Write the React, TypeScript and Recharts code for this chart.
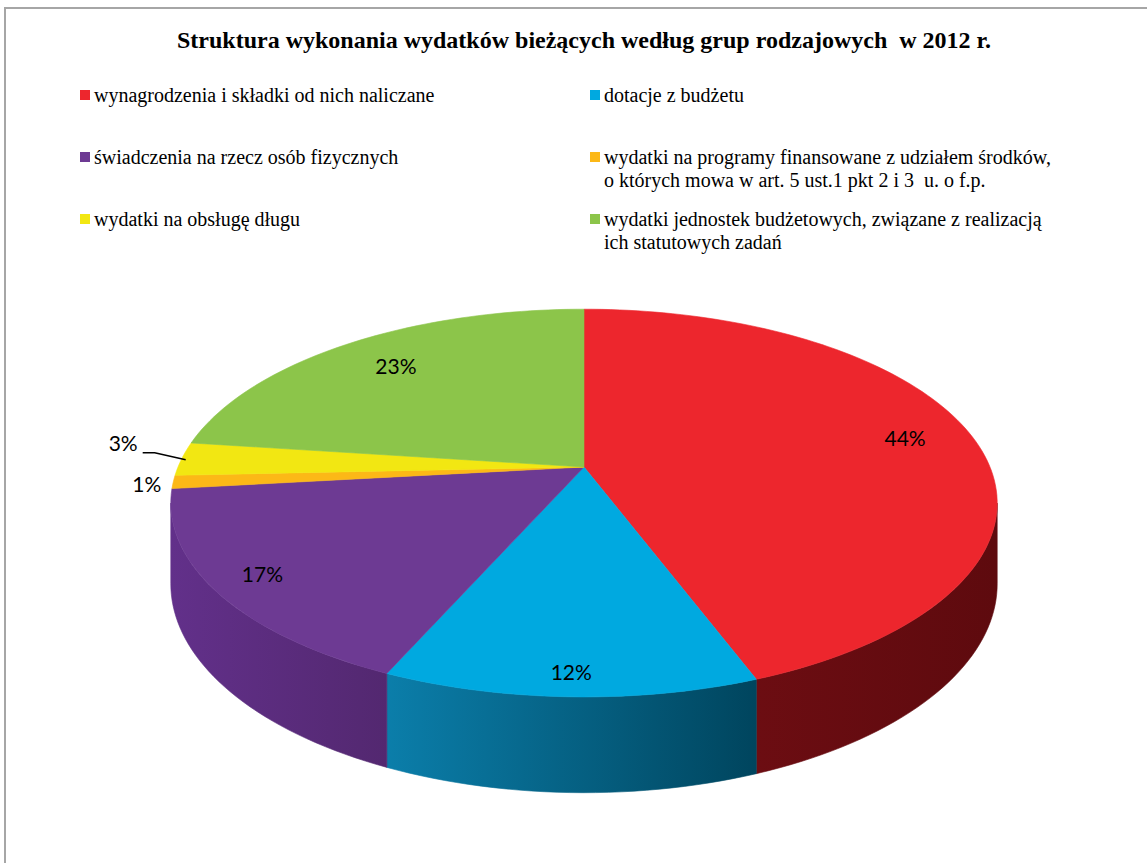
import { PieChart, Pie, Cell, Legend } from 'recharts'

const serif = '"Liberation Serif", "Times New Roman", serif'
const sans = 'Lato, "Open Sans", sans-serif'

const title = 'Struktura wykonania wydatków bieżących według grup rodzajowych  w 2012 r.'

const categories = [
  'wynagrodzenia i składki od nich naliczane',
  'dotacje z budżetu',
  'świadczenia na rzecz osób fizycznych',
  'wydatki na programy finansowane z udziałem środków,\no których mowa w art. 5 ust.1 pkt 2 i 3  u. o f.p.',
  'wydatki na obsługę długu',
  'wydatki jednostek budżetowych, związane z realizacją\nich statutowych zadań',
]
// share of total, %
const shares = [44.3, 12.3, 16.6, 1.1, 2.8, 22.9]

const topColors = ['#ED262D', '#00A9E0', '#6D3A93', '#FCB817', '#F2E712', '#8CC54A']
const sideLight = ['#6C0D12', '#0B7EAA', '#62308A', '#B07F0C', '#A9A10A', '#5F8A30']
const sideDark = ['#5E0A0E', '#00455E', '#532870', '#9A6F0A', '#958E08', '#54792A']

const data = categories.map((name, i) => ({ name, value: shares[i] }))

// fake 3D: perspective projection of the flat pie
const TILT = 0.461
const PERSP = 0.186
const DEPTH = 0.192
// where the side wall silhouette starts / ends
const SIDE_FROM = (Math.acos(-PERSP) * 180) / Math.PI
const SIDE_TO = 360 - SIDE_FROM

function project(cx: number, cy: number, R: number, theta: number, r = 1, drop = 0) {
  const t = (theta * Math.PI) / 180
  const x = r * Math.sin(t)
  const z = r * Math.cos(t)
  const w = 1 + PERSP * z
  return [cx + (R * x) / w, cy + (-R * TILT * z + R * DEPTH * drop) / w]
}

function arcPoints(cx: number, cy: number, R: number, t1: number, t2: number, drop = 0) {
  const n = Math.max(2, Math.ceil((t2 - t1) / 1.5))
  const pts: number[][] = []
  for (let i = 0; i <= n; i++) pts.push(project(cx, cy, R, t1 + ((t2 - t1) * i) / n, 1, drop))
  return pts
}

function TopSlice(props: any) {
  const { cx, cy, outerRadius, startAngle, endAngle, fill } = props
  const t1 = 90 - startAngle
  const t2 = 90 - endAngle
  const pts = arcPoints(cx, cy, outerRadius, Math.min(t1, t2), Math.max(t1, t2))
  const d = `M${cx},${cy}` + pts.map((p) => `L${p[0].toFixed(2)},${p[1].toFixed(2)}`).join('') + 'Z'
  return <path d={d} fill={fill} stroke={fill} strokeWidth={0.6} />
}

function SideSlice(props: any) {
  const { cx, cy, outerRadius, startAngle, endAngle, fill } = props
  const a = Math.min(90 - startAngle, 90 - endAngle)
  const b = Math.max(90 - startAngle, 90 - endAngle)
  const t1 = Math.max(a, SIDE_FROM)
  const t2 = Math.min(b, SIDE_TO)
  if (t2 <= t1) return null
  const top = arcPoints(cx, cy, outerRadius, t1, t2)
  const bottom = arcPoints(cx, cy, outerRadius, t1, t2, 1).reverse()
  const d = 'M' + [...top, ...bottom].map((p) => `${p[0].toFixed(2)},${p[1].toFixed(2)}`).join('L') + 'Z'
  return <path d={d} fill={fill} stroke={fill} strokeWidth={0.6} />
}

function renderLabel(props: any) {
  const { cx, cy, outerRadius, midAngle, percent } = props
  const theta = 90 - midAngle
  const txt = `${Math.round(percent * 100)}%`
  const style = { fontFamily: sans, fontSize: 21, fill: '#000' }
  if (percent >= 0.05) {
    // labels sit a bit further out on the near side
    const r = 0.84 - 0.08 * Math.cos((theta * Math.PI) / 180)
    const [x, y] = project(cx, cy, outerRadius, theta, r)
    return (
      <text x={x} y={y - 3} textAnchor="middle" dominantBaseline="central" style={style}>
        {txt}
      </text>
    )
  }
  const [ex, ey] = project(cx, cy, outerRadius, theta, 1)
  if (percent < 0.02) {
    return (
      <text x={ex - 12} y={ey + 2} textAnchor="end" dominantBaseline="central" style={style}>
        {txt}
      </text>
    )
  }
  const kx = ex - 27
  const ky = ey - 6
  return (
    <g>
      <polyline points={`${ex + 4},${ey + 1} ${kx},${ky} ${kx - 12},${ky}`} fill="none" stroke="#000" strokeWidth={1.5} />
      <text x={kx - 17} y={ky - 10} textAnchor="end" dominantBaseline="central" style={style}>
        {txt}
      </text>
    </g>
  )
}

function LegendGrid() {
  return (
    <div style={{ position: 'relative', width: 1147, height: 270 }}>
      {categories.map((name, i) => {
        const col = i % 2
        const row = Math.floor(i / 2)
        return (
          <div
            key={i}
            style={{
              position: 'absolute',
              left: col === 0 ? 80 : 590,
              top: 84 + row * 62,
              display: 'flex',
              alignItems: 'flex-start',
              fontFamily: serif,
              fontSize: 20,
              lineHeight: '23px',
              color: '#000',
              textAlign: 'left',
            }}
          >
            <span style={{ width: 10, height: 10, marginTop: 6, marginRight: 4, background: topColors[i], flex: 'none' }} />
            <span style={{ whiteSpace: 'pre' }}>{name}</span>
          </div>
        )
      })}
    </div>
  )
}

export default function App() {
  return (
    <div style={{ position: 'relative', width: 1147, height: 863, background: '#fff', overflow: 'hidden' }}>
      <style>{'body{margin:0}'}</style>
      <div
        style={{
          position: 'absolute',
          left: 4,
          top: 7,
          width: 1200,
          height: 900,
          borderLeft: '2px solid #a6a6a6',
          borderTop: '2px solid #a6a6a6',
        }}
      />
      <div
        style={{
          position: 'absolute',
          left: 0,
          width: 1168,
          top: 27,
          textAlign: 'center',
          fontFamily: serif,
          fontWeight: 'bold',
          fontSize: 24,
          whiteSpace: 'pre',
        }}
      >
        {title}
      </div>
      <div style={{ position: 'absolute', left: 0, top: 0 }}>
        <PieChart width={1147} height={863} margin={{ top: 0, right: 0, bottom: 0, left: 0 }}>
          <defs>
            {categories.map((_, i) => (
              <linearGradient key={i} id={`side${i}`} x1="0" y1="0" x2="1" y2="0">
                <stop offset="0%" stopColor={sideLight[i]} />
                <stop offset="100%" stopColor={sideDark[i]} />
              </linearGradient>
            ))}
          </defs>
          <Legend
            content={<LegendGrid />}
            wrapperStyle={{ position: 'absolute', left: 0, top: 0, width: 1147, height: 270 }}
          />
          <Pie
            data={data}
            dataKey="value"
            nameKey="name"
            cx={584}
            cy={467}
            outerRadius={406}
            startAngle={90}
            endAngle={-270}
            isAnimationActive={false}
            legendType="none"
            label={false}
            labelLine={false}
            shape={SideSlice}
          >
            {data.map((_, i) => (
              <Cell key={i} fill={`url(#side${i})`} />
            ))}
          </Pie>
          <Pie
            data={data}
            dataKey="value"
            nameKey="name"
            cx={584}
            cy={467}
            outerRadius={406}
            startAngle={90}
            endAngle={-270}
            isAnimationActive={false}
            legendType="square"
            label={renderLabel}
            labelLine={false}
            shape={TopSlice}
          >
            {data.map((_, i) => (
              <Cell key={i} fill={topColors[i]} />
            ))}
          </Pie>
        </PieChart>
      </div>
    </div>
  )
}
